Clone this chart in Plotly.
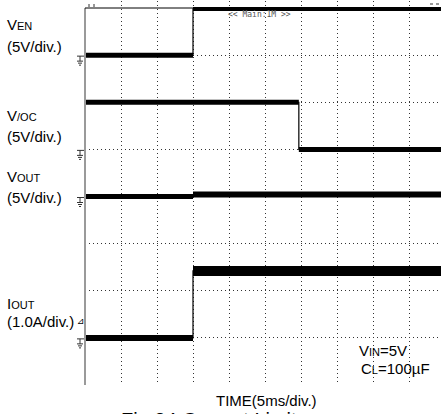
import plotly.graph_objects as go

# ---- picture geometry (pixels) ----
W, H = 441, 414
LEFT_PX, TOP_PX, BOTTOM_PX = 85, 1, 385
DIV_X_PX, DIV_Y_PX = 36, 47.125
MS_PER_DIV = 5

X_MAX = (W - LEFT_PX) / DIV_X_PX * MS_PER_DIV
Y_MAX = (BOTTOM_PX - TOP_PX) / DIV_Y_PX

# ---- waveforms (time in ms, values in V or A) ----
t_en = [0, 15, 15, 50]
v_en = [0, 0, 4.9, 4.9]

t_oc = [0, 29.7, 29.7, 50]
v_oc = [5, 5, 0, 0]

t_vout = [0, 15, 15, 50]
v_vout = [0, 0, 0.2, 0.2]

t_iout = [0, 15, 15, 50]
i_iout = [0, 0, 1.42, 1.42]

# channel: (time, values, ground position in divisions, units per division)
channels = {
    "VEN": (t_en, v_en, 7, 5.0),
    "VOC": (t_oc, v_oc, 5, 5.0),
    "VOUT": (t_vout, v_vout, 4, 5.0),
    "IOUT": (t_iout, i_iout, 1, 1.0),
}
# thickness of the flat parts of each trace (the scope trace is noisy)
seg_width = {"VEN": [5, 4], "VOC": [5, 5], "VOUT": [5, 6], "IOUT": [6, 10]}

FONT = "Liberation Sans, Arial, sans-serif"


def px(x):
    return (x - LEFT_PX) / (W - LEFT_PX)


def py(y):
    return (BOTTOM_PX - y) / (BOTTOM_PX - TOP_PX)


fig = go.Figure()

for name, (t, vals, gnd, scale) in channels.items():
    ydiv = [gnd + v / scale for v in vals]
    # thin line carries the edges
    fig.add_trace(go.Scatter(x=t, y=ydiv, mode="lines",
                             line=dict(color="black", width=1.2),
                             hoverinfo="skip", showlegend=False))
    # thick flat segments
    k = 0
    for i in range(len(t) - 1):
        if vals[i] == vals[i + 1]:
            fig.add_trace(go.Scatter(x=[t[i], t[i + 1]], y=[ydiv[i], ydiv[i + 1]],
                                     mode="lines",
                                     line=dict(color="black", width=seg_width[name][k]),
                                     hoverinfo="skip", showlegend=False))
            k += 1

    # ground marker just left of the grid
    yl = BOTTOM_PX - gnd * DIV_Y_PX
    marks = [(77, 84, yl + 1), (77, 83, yl + 6), (78, 82, yl + 8), (79, 81, yl + 10)]
    for x0, x1, yy in marks:
        fig.add_shape(type="line", xref="paper", yref="paper",
                      x0=px(x0), x1=px(x1), y0=py(yy), y1=py(yy),
                      line=dict(color="#333", width=1))
    fig.add_shape(type="line", xref="paper", yref="paper",
                  x0=px(80), x1=px(80), y0=py(yl + 1), y1=py(yl + 6),
                  line=dict(color="#333", width=1))

# grid frame: gray left edge, thin black top edge
fig.add_shape(type="line", xref="paper", yref="y", x0=0, x1=0, y0=0, y1=8,
              line=dict(color="#9a9a9a", width=2))
fig.add_shape(type="line", xref="paper", yref="y", x0=0, x1=1, y0=8, y1=8,
              line=dict(color="black", width=1))

# little scope marks along the top
for x0, x1, y0, y1 in [(89, 89, 4, 7), (94, 94, 4, 7), (430, 433, 4, 4), (436, 439, 4, 4)]:
    fig.add_shape(type="line", xref="paper", yref="paper",
                  x0=px(x0), x1=px(x1), y0=py(y0), y1=py(y1),
                  line=dict(color="#333", width=1))

small = '<span style="font-size:11px">{}</span>'
labels = [
    ("V" + small.format("EN"), 5, 24),
    ("(5V/div.)", 5, 46.5),
    ("V" + small.format("/OC"), 5, 116),
    ("(5V/div.)", 5, 136.5),
    ("V" + small.format("OUT"), 5, 176),
    ("(5V/div.)", 5, 197.5),
    ("I" + small.format("OUT"), 5, 303),
    ("(1.0A/div.)", 5, 321.5),
    ("V" + small.format("IN") + "=5V", 357, 350),
    ("C" + small.format("L") + "=100µF", 359, 368),
]
for text, x, y in labels:
    fig.add_annotation(text=text, x=px(x), y=py(y), xref="paper", yref="paper",
                       xanchor="left", yanchor="middle", showarrow=False,
                       font=dict(family=FONT, size=15, color="black"))

fig.add_annotation(text="⊿", x=px(81), y=py(321), xref="paper", yref="paper",
                   xanchor="center", yanchor="middle", showarrow=False,
                   font=dict(family="DejaVu Sans", size=9, color="black"))

fig.add_annotation(text="<< Main:1M >>", x=px(259), y=py(14.5), xref="paper", yref="paper",
                   xanchor="center", yanchor="middle", showarrow=False,
                   font=dict(family="DejaVu Sans Mono", size=8, color="#555"))

fig.add_annotation(text="TIME(5ms/div.)", x=px(266), y=py(400), xref="paper", yref="paper",
                   xanchor="center", yanchor="middle", showarrow=False,
                   font=dict(family=FONT, size=15, color="black"))

fig.add_annotation(text="Fig.24 Current Limit", x=px(119), y=py(420), xref="paper", yref="paper",
                   xanchor="left", yanchor="middle", showarrow=False,
                   font=dict(family=FONT, size=20, color="black"))

grid = dict(showgrid=True, gridcolor="#333", gridwidth=1, griddash="1px,3px",
            zeroline=False, showticklabels=False, ticks="", showline=False)

fig.update_layout(
    width=W, height=H,
    margin=dict(l=LEFT_PX, r=0, t=TOP_PX, b=H - BOTTOM_PX, pad=0),
    paper_bgcolor="white", plot_bgcolor="white",
    xaxis=dict(range=[0, X_MAX], tickvals=[5 * k for k in range(1, 10)], **grid),
    yaxis=dict(range=[0, Y_MAX], tickvals=list(range(1, 8)), **grid),
    showlegend=False,
)

# the page's default body margin would push the figure 8px off the corner
fig.write_html("out.html", config={"displayModeBar": False},
               post_script="document.body.style.margin='0';")
